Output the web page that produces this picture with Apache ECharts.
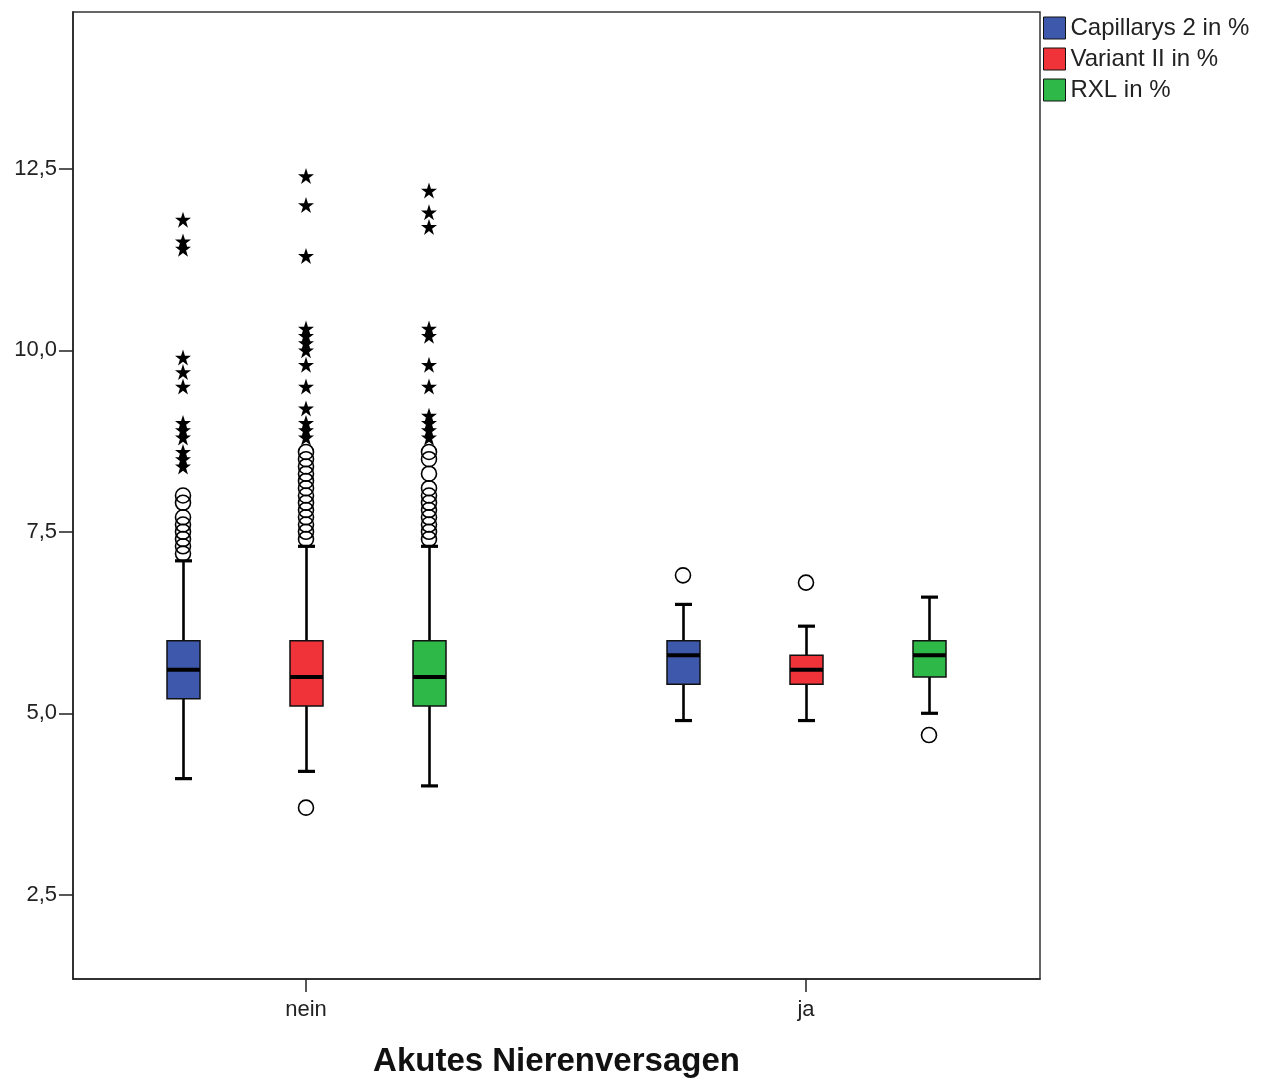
<!DOCTYPE html>
<html>
<head>
<meta charset="utf-8">
<script src="https://cdn.jsdelivr.net/npm/echarts@6/dist/echarts.min.js"></script>
<style>
html,body{margin:0;padding:0;background:#fff;}
#chart{width:1264px;height:1082px;}
</style>
</head>
<body>
<div id="chart"></div>
<script>
// ---- data ----
const categories = ['nein', 'ja'];
const seriesNames = ['Capillarys 2 in %', 'Variant II in %', 'RXL in %'];
const seriesColors = ['#3E58AC', '#EF3338', '#2EB848'];
const yTickValues = [2.5, 5.0, 7.5, 10.0, 12.5];

// [min whisker, Q1, median, Q3, max whisker] per category
const capillarysStats = [[4.1, 5.2, 5.6, 6.0, 7.1], [4.9, 5.4, 5.8, 6.0, 6.5]];
const variantStats    = [[4.2, 5.1, 5.5, 6.0, 7.3], [4.9, 5.4, 5.6, 5.8, 6.2]];
const rxlStats        = [[4.0, 5.1, 5.5, 6.0, 7.3], [5.0, 5.5, 5.8, 6.0, 6.6]];

// outliers (circles) per category
const capillarysOutliers = [[7.2, 7.3, 7.4, 7.5, 7.6, 7.7, 7.9, 8.0], [6.9]];
const variantOutliers    = [[3.7, 7.4, 7.5, 7.6, 7.7, 7.8, 7.9, 8.0, 8.1, 8.2, 8.3, 8.4, 8.5, 8.6], [6.8]];
const rxlOutliers        = [[7.4, 7.5, 7.6, 7.7, 7.8, 7.9, 8.0, 8.1, 8.3, 8.5, 8.6], [4.7]];

// extreme values (stars) per category
const capillarysExtremes = [[8.4, 8.5, 8.6, 8.8, 8.9, 9.0, 9.5, 9.7, 9.9, 11.4, 11.5, 11.8], []];
const variantExtremes    = [[8.8, 8.9, 9.0, 9.2, 9.5, 9.8, 10.0, 10.1, 10.2, 10.3, 11.3, 12.0, 12.4], []];
const rxlExtremes        = [[8.8, 8.9, 9.0, 9.1, 9.5, 9.8, 10.2, 10.3, 11.7, 11.9, 12.2], []];

// ---- layout constants ----
const SERIES_OFFSET = 0.246;   // horizontal offset between boxes of one group (axis units)
const BOX_W = 33, CAP_W = 17;
const FONT = '"Liberation Sans", Arial, sans-serif';
const STAR = 'path://M50 0 L61.8 35.1 L98.6 35.1 L68.8 56.8 L80.2 91.9 L50 70.2 L19.8 91.9 L31.2 56.8 L1.4 35.1 L38.2 35.1 Z';

const allStats = [capillarysStats, variantStats, rxlStats];
const allOutliers = [capillarysOutliers, variantOutliers, rxlOutliers];
const allExtremes = [capillarysExtremes, variantExtremes, rxlExtremes];

function xPos(groupIdx, seriesIdx) { return groupIdx + (seriesIdx - 1) * SERIES_OFFSET; }

function renderBox(params, api) {
  const x = api.value(0);
  const lo = api.coord([x, api.value(1)]);
  const q1 = api.coord([x, api.value(2)]);
  const md = api.coord([x, api.value(3)]);
  const q3 = api.coord([x, api.value(4)]);
  const hi = api.coord([x, api.value(5)]);
  const cx = Math.round(lo[0]) + 0.5;
  const color = api.visual('color');
  const stroke = '#000';
  return {
    type: 'group',
    children: [
      {type: 'line', shape: {x1: cx, y1: hi[1], x2: cx, y2: q3[1]}, style: {stroke, lineWidth: 2.6}},
      {type: 'line', shape: {x1: cx, y1: q1[1], x2: cx, y2: lo[1]}, style: {stroke, lineWidth: 2.6}},
      {type: 'line', shape: {x1: cx - CAP_W / 2, y1: hi[1], x2: cx + CAP_W / 2, y2: hi[1]}, style: {stroke, lineWidth: 3.2}},
      {type: 'line', shape: {x1: cx - CAP_W / 2, y1: lo[1], x2: cx + CAP_W / 2, y2: lo[1]}, style: {stroke, lineWidth: 3.2}},
      {type: 'rect', shape: {x: cx - BOX_W / 2, y: q3[1], width: BOX_W, height: q1[1] - q3[1]},
        style: {fill: color, stroke: '#111', lineWidth: 1.5}},
      {type: 'line', shape: {x1: cx - BOX_W / 2, y1: md[1], x2: cx + BOX_W / 2, y2: md[1]}, style: {stroke, lineWidth: 4}}
    ]
  };
}

const series = [];
seriesNames.forEach((name, si) => {
  series.push({
    name: name,
    type: 'custom',
    renderItem: renderBox,
    itemStyle: {color: seriesColors[si]},
    encode: {x: 0, y: [1, 2, 3, 4, 5]},
    data: allStats[si].map((s, gi) => [xPos(gi, si)].concat(s)),
    z: 2
  });
});
seriesNames.forEach((name, si) => {
  const pts = [];
  allOutliers[si].forEach((vals, gi) => vals.forEach(v => pts.push([xPos(gi, si), v])));
  series.push({
    name: name + ' (Ausreißer)',
    type: 'scatter',
    symbol: 'circle',
    symbolSize: 15,
    itemStyle: {color: 'rgba(255,255,255,0)', borderColor: '#000', borderWidth: 1.6, opacity: 1},
    data: pts,
    z: 3
  });
  const ext = [];
  allExtremes[si].forEach((vals, gi) => vals.forEach(v => ext.push([xPos(gi, si), v])));
  series.push({
    name: name + ' (Extremwerte)',
    type: 'scatter',
    symbol: STAR,
    symbolSize: 16,
    itemStyle: {color: '#000', opacity: 1},
    data: ext,
    z: 3
  });
});

const chart = echarts.init(document.getElementById('chart'), null, {renderer: 'canvas'});
chart.setOption({
  animation: false,
  backgroundColor: '#fff',
  textStyle: {fontFamily: FONT},
  grid: {left: 73, right: 224, top: 12, bottom: 103, show: true, borderColor: '#333', borderWidth: 1.5,
    backgroundColor: 'transparent', containLabel: false, outerBoundsMode: 'none'},
  legend: {
    data: seriesNames.map((n, i) => ({name: n, itemStyle: {color: seriesColors[i], borderColor: '#111', borderWidth: 1}})),
    orient: 'vertical',
    left: 1043, top: 16,
    icon: 'rect',
    itemWidth: 22, itemHeight: 22, itemGap: 7,
    padding: 0,
    selectedMode: false,
    textStyle: {fontFamily: FONT, fontSize: 24, color: '#222', padding: [3, 0, 0, 0]}
  },
  xAxis: {
    type: 'value',
    min: -0.466, max: 1.468,
    splitLine: {show: false},
    axisLine: {show: true, onZero: false, lineStyle: {color: '#222', width: 1.5}},
    axisTick: {show: true, customValues: [0, 1], length: 13, inside: false, lineStyle: {color: '#222', width: 1.5}},
    axisLabel: {customValues: [0, 1], formatter: v => categories[Math.round(v)] || '', margin: 20,
      fontSize: 22, color: '#222', fontFamily: FONT},
    name: 'Akutes Nierenversagen',
    nameLocation: 'middle',
    nameGap: 66,
    nameTextStyle: {fontSize: 33, fontWeight: 'bold', color: '#111', fontFamily: FONT}
  },
  yAxis: {
    type: 'value',
    min: 1.34, max: 14.66,
    splitLine: {show: false},
    axisLine: {show: true, onZero: false, lineStyle: {color: '#222', width: 1.5}},
    axisTick: {show: true, customValues: yTickValues, length: 14, lineStyle: {color: '#222', width: 1.5}},
    axisLabel: {customValues: yTickValues, formatter: v => v.toFixed(1).replace('.', ','), margin: 16,
      fontSize: 22, color: '#222', fontFamily: FONT}
  },
  series: series
});
</script>
</body>
</html>
